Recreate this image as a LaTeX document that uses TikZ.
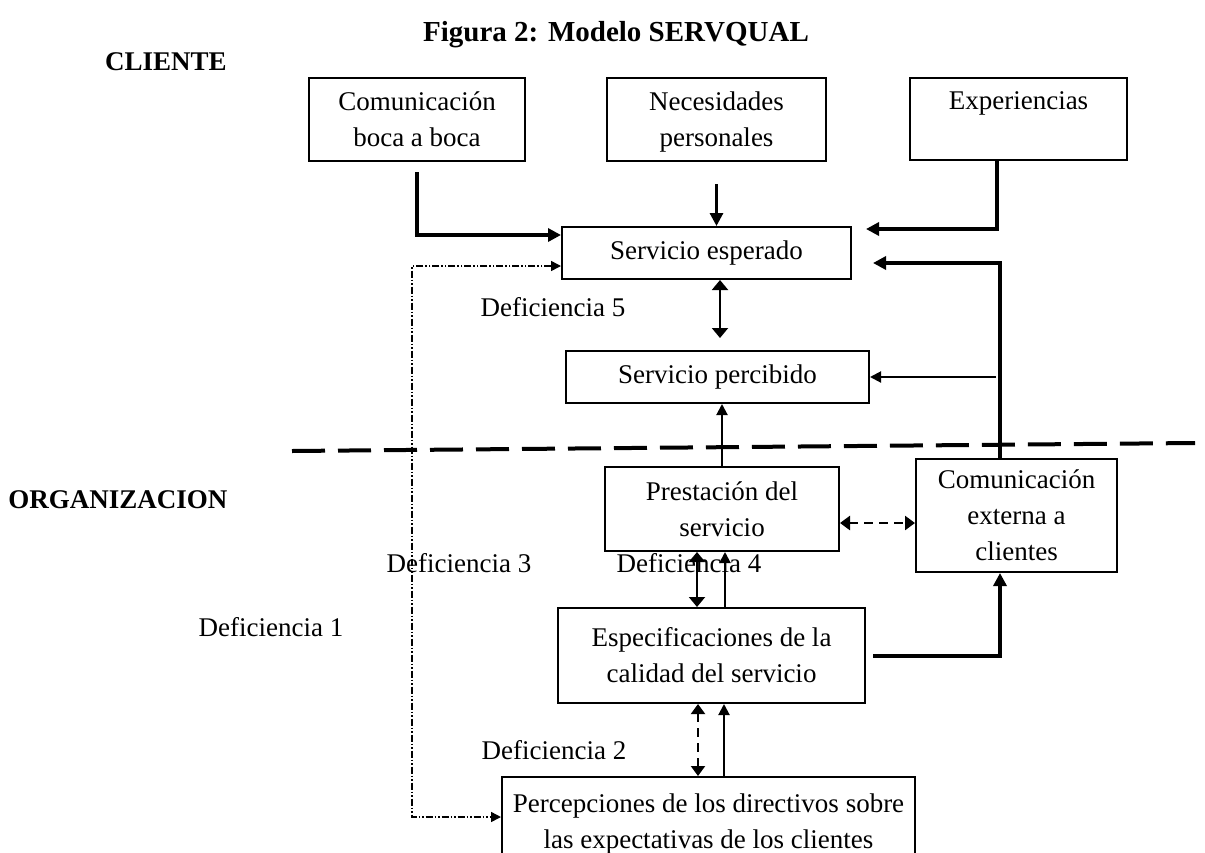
\documentclass[tikz,border=0pt]{standalone}
\usepackage{fontspec}
\setmainfont{Liberation Serif}
\usetikzlibrary{arrows.meta}

\begin{document}
\begin{tikzpicture}[x=1pt,y=-1pt,>={Triangle[length=13pt,width=13pt]},
		main box/.style={draw,line width=2pt,inner sep=0pt,align=center,font=\fontsize{27}{36}\selectfont},
		gap label/.style={font=\fontsize{27}{36}\selectfont},
		head label/.style={font=\fontsize{27}{36}\selectfont\bfseries},
		thick link/.style={->,line width=4pt},
		mid link/.style={->,line width=3pt},
		thin link/.style={->,line width=2pt,>={Triangle[length=11pt,width=11pt]}},
		both link/.style={<->,line width=2pt,>={Triangle[length=10pt,width=16pt]}},
		dash link/.style={<->,line width=2.5pt,dash pattern=on 9pt off 6pt,>={Triangle[length=10pt,width=14pt]}},
		dashdot link/.style={<->,line width=1.5pt,dash pattern=on 7pt off 2pt on 1.5pt off 2pt on 1.5pt off 2pt,>={Triangle[length=10pt,width=10pt]}}]
	\useasboundingbox (0,0) rectangle (1205,852);
	\clip (0,0) rectangle (1205,852);
	% titles
	\node[head label,font=\fontsize{29}{36}\selectfont\bfseries] (title) at (616,35) {Figura 2: Modelo SERVQUAL};
	\node[head label] (cliente) at (166,62) {CLIENTE};
	\node[head label] (org) at (118,500) {ORGANIZACION};
	% boxes
	\node[main box,minimum width=216pt,minimum height=83pt] (com) at (417,119.5) {Comunicación\\boca a boca};
	\node[main box,minimum width=219pt,minimum height=83pt,text depth=0pt] (nec) at (716.5,119.5) {Necesidades\\personales};
	\node[main box,minimum width=217pt,minimum height=82pt] (exp) at (1018.5,119) {Experiencias\\~};
	\node[main box,minimum width=289pt,minimum height=52pt] (esp) at (706.5,253) {Servicio esperado};
	\node[main box,minimum width=303pt,minimum height=52pt] (per) at (717.5,377) {Servicio percibido};
	\node[main box,minimum width=234pt,minimum height=84pt] (pre) at (722,509) {Prestación del\\servicio};
	\node[main box,minimum width=201pt,minimum height=113pt] (cext) at (1016.5,515.5) {Comunicación\\externa a\\clientes};
	\node[main box,minimum width=307pt,minimum height=95pt] (espec) at (711.5,655.5) {Especificaciones de la\\calidad del servicio};
	\node[main box,minimum width=413pt,minimum height=93pt] (perc) at (708.5,823.5) {Percepciones de los directivos sobre\\las expectativas de los clientes};
	% gaps
	\node[gap label] (def5) at (553,307) {Deficiencia 5};
	\node[gap label] (def3) at (459,563) {Deficiencia 3};
	\node[gap label] (def4) at (689,563) {Deficiencia 4};
	\node[gap label] (def1) at (271,627) {Deficiencia 1};
	\node[gap label] (def2) at (554,750) {Deficiencia 2};
	% border between client and organisation
	\draw[line width=4pt,dash pattern=on 33pt off 13pt] (292,451) -- (1195,443);
	% client side
	\draw[thick link] ([yshift=-10pt]com.south) |- ([yshift=18pt]esp.west);
	\draw[mid link] ([yshift=-22pt]nec.south) -- (nec.south |- esp.north);
	\draw[thick link] ([xshift=-21.5pt]exp.south) |- ([xshift=14pt,yshift=24pt]esp.east);
	\coordinate (up) at ([xshift=-16.5pt]cext.north);
	\draw[thick link] (up) |- ([xshift=21pt,yshift=-10pt]esp.east);
	\draw[thin link] ([xshift=-4pt]per.east -| up) -- (per.east);
	\coordinate (d5) at ([xshift=13.5pt]esp.south);
	\draw[both link,shorten >=12pt] (d5) -- (d5 |- per.north);
	\draw[thin link] (pre.north) -- (pre.north |- per.south);
	% organisation side
	\coordinate (d4) at ([xshift=-25pt]pre.south);
	\draw[both link] (d4) -- (d4 |- espec.north);
	\draw[thin link] ([xshift=3pt]pre.south |- espec.north) -- ([xshift=3pt]pre.south);
	\coordinate (ext) at ([yshift=-14pt]pre.east);
	\draw[dash link] (ext) -- (ext -| cext.west);
	\draw[thick link] ([xshift=7pt]espec.east) -| ([xshift=-16.5pt]cext.south);
	\coordinate (d2) at ([xshift=-10.5pt]perc.north);
	\draw[dash link,line width=2pt] (d2) -- (d2 |- espec.south);
	\draw[thin link] ([xshift=15.5pt]perc.north) -- ([xshift=15.5pt]perc.north |- espec.south);
	\coordinate (lft) at (412,0);
	\coordinate (top) at ([yshift=-13pt]esp.west);
	\coordinate (bot) at ([yshift=6.5pt]perc.west);
	\draw[dashdot link] (top) -| (lft |- bot) -- (bot);
\end{tikzpicture}
\end{document}
